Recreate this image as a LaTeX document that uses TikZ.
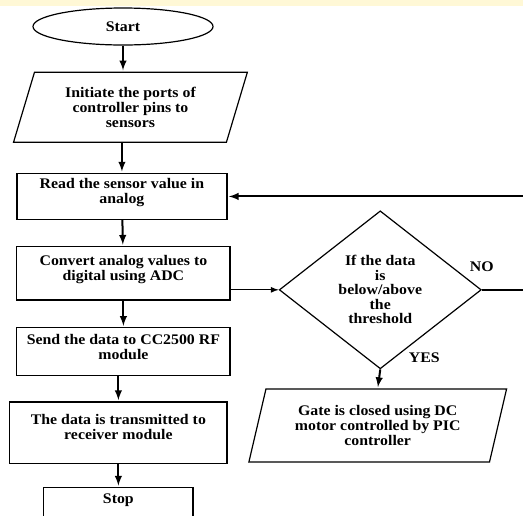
\documentclass[tikz,border=0pt]{standalone}
\usepackage{fontspec}
\setmainfont{Liberation Serif}[FakeStretch=1.08]
\usetikzlibrary{arrows,positioning,shapes.geometric}
\definecolor{Banner}{HTML}{FFF8D6}

\begin{document}
\begin{tikzpicture}[
    x=0.75pt, y=-0.75pt,
    every node/.style={font=\fontsize{11}{11.2}\selectfont\bfseries},
    box/.style={draw, line width=0.9pt, align=center, inner sep=2pt, text depth=8pt},
    io/.style={trapezium, trapezium stretches=true, draw, line width=0.9pt,
               align=center, inner sep=2pt},
    arr/.style={-latex, line width=1.5pt, shorten >=1pt},
    node distance=19.5pt
  ]
    \clip (0,0) rectangle (523,515);
    \fill[Banner] (0,0) rectangle (523,6);
    % main column
    \node[ellipse, draw, line width=0.9pt, minimum width=135pt, minimum height=27.75pt] (start) at (123,26.5) {Start};
    \node[io, trapezium left angle=72, trapezium right angle=108, minimum width=175.5pt, minimum height=52.5pt,
          below=19.5pt of start, xshift=5.6pt] (init) {Initiate the ports of\\controller pins to\\sensors};
    \node[box, minimum width=157.5pt, minimum height=34.5pt, below=22.5pt of init, xshift=-6.4pt] (read) {Read the sensor value in\\analog};
    \node[box, minimum width=160pt, minimum height=40pt, below=19.5pt of read, xshift=1.1pt] (conv) {Convert analog values to\\digital using ADC};
    \node[box, minimum width=160pt, minimum height=36pt, below=20pt of conv] (send) {Send the data to CC2500 RF\\module};
    \node[box, minimum width=163pt, minimum height=46pt, below=18.75pt of send, xshift=-3.75pt] (trans) {The data is transmitted to\\receiver module};
    \node[draw, line width=0.9pt, minimum width=112pt, inner sep=2pt, text height=10pt, text depth=40pt,
          below=17.25pt of trans] (stop) {Stop};
    % decision branch
    \node[diamond, draw, line width=0.9pt, aspect=1.28, inner sep=0pt, minimum width=151.5pt, minimum height=118.5pt,
          align=center, font=\fontsize{11}{10.9}\selectfont\bfseries,
          right=36pt of conv, yshift=-12.4pt] (dec) {If the data\\is\\below/above\\the\\threshold};
    \node[io, trapezium left angle=74, trapezium right angle=106, minimum width=193.5pt, minimum height=54.75pt,
          below=14.25pt of dec, xshift=-1.9pt] (gate) {Gate is closed using DC\\motor controlled by PIC\\controller};
    \node[above=10pt of dec.east] (no) {NO};
    \node[above right=1.5pt and 18pt of dec.south] (yes) {YES};
    \coordinate (loop) at (535,0);

    \draw[arr] (start.south) -- (start.south |- init.north);
    \draw[arr] (read.north |- init.south) -- (read.north);
    \draw[arr] (read) -- (conv);
    \draw[arr] (conv.south) -- (conv.south |- send.north);
    \draw[arr] (trans.north |- send.south) -- (trans.north);
    \draw[arr] (stop.north |- trans.south) -- (stop.north);
    \draw[-latex, line width=1pt] (conv.east |- dec.west) -- (dec.west);
    \draw[arr] (dec.south) -- (gate.north);
    \draw[arr] (dec.east) -- (dec.east -| loop) |- (read.east);
\end{tikzpicture}
\end{document}
